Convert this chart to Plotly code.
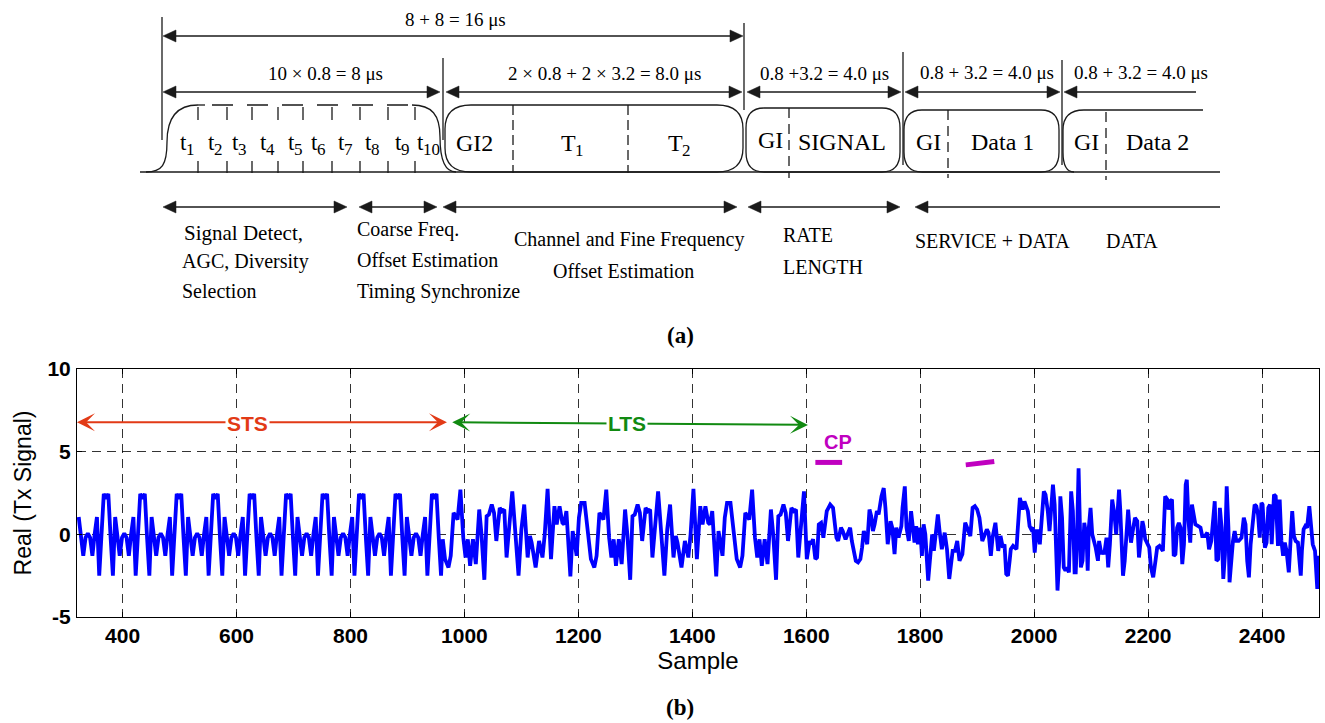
import plotly.graph_objects as go

W, H = 1325, 723

# ------------------------------------------------------------------ data (b)
# short training sequence: one value every 4 samples starting at sample 323
sts_start = 323
sts_step = 4
sts_values = [
    1.05, 0.0, -1.3, -0.2, 0.05, -0.2, -1.3, 0.0, 1.05, -2.5, -0.2, 2.45, 2.15, 2.45, -0.2, -2.5,
    1.05, 0.0, -1.3, -0.2, 0.05, -0.2, -1.3, 0.0, 1.05, -2.5, -0.2, 2.45, 2.15, 2.45, -0.2, -2.5,
    1.05, 0.0, -1.3, -0.2, 0.05, -0.2, -1.3, 0.0, 1.05, -2.5, -0.2, 2.45, 2.15, 2.45, -0.2, -2.5,
    1.05, 0.0, -1.3, -0.2, 0.05, -0.2, -1.3, 0.0, 1.05, -2.5, -0.2, 2.45, 2.15, 2.45, -0.2, -2.5,
    1.05, 0.0, -1.3, -0.2, 0.05, -0.2, -1.3, 0.0, 1.05, -2.5, -0.2, 2.45, 2.15, 2.45, -0.2, -2.5,
    1.05, 0.0, -1.3, -0.2, 0.05, -0.2, -1.3, 0.0, 1.05, -2.5, -0.2, 2.45, 2.15, 2.45, -0.2, -2.5,
    1.05, 0.0, -1.3, -0.2, 0.05, -0.2, -1.3, 0.0, 1.05, -2.5, -0.2, 2.45, 2.15, 2.45, -0.2, -2.5,
    1.05, 0.0, -1.3, -0.2, 0.05, -0.2, -1.3, 0.0, 1.05, -2.5, -0.2, 2.45, 2.15, 2.45, -0.2, -2.5,
    1.05, 0.0, -1.3, -0.2, 0.05, -0.2, -1.3, 0.0, 1.05, -2.5, -0.2, 2.45, 2.15, 2.45, -0.2, -2.5,
    1.05, 0.0, -1.3, -0.2, 0.05, -0.2, -1.3, 0.0, 1.05, -2.5, -0.2, 2.45, 2.15, 2.45, -0.2, -2.5,
]

# long training sequence (GI2, T1, T2): (sample, value)
lts_points = [
    (962, -0.3), (966, -1.5), (972, -2.0), (976, -1.3), (981, 1.3), (985, 1.0), (988, 0.9), (993, 2.7),
    (998, -0.2), (1002, -1.4), (1006, -0.3), (1010, -1.9), (1015, -0.3), (1020, -1.8), (1026, 1.5),
    (1030, 0.0), (1035, -2.75), (1039, 1.1), (1043, 1.2), (1048, 1.8), (1052, 1.3), (1056, -0.4),
    (1062, 1.6), (1066, 1.4), (1070, 1.5), (1074, -1.4), (1078, 0.5), (1084, 2.6),
    (1095, -2.5), (1100, 0.3), (1105, 1.8), (1111, -1.4), (1115, -0.1), (1118, -0.5), (1125, -2.0),
    (1131, -0.4), (1137, -1.4), (1141, 0.0), (1146, 2.75), (1152, -1.5), (1158, 1.7), (1162, 0.6),
    (1167, 1.7), (1172, 0.7), (1175, 0.6), (1179, 1.4), (1186, -2.55), (1190, 0.2), (1193, -0.4),
    (1197, -1.3), (1201, 1.0), (1205, 1.9), (1211, 1.9), (1216, 0.5), (1222, -1.5), (1228, -2.0),
    (1232, -1.3), (1237, 1.3), (1241, 1.0), (1244, 0.9), (1249, 2.7), (1254, -0.2), (1258, -1.4),
    (1262, -0.3), (1266, -1.9), (1271, -0.3), (1276, -1.8), (1282, 1.5), (1286, 0.0), (1291, -2.75),
    (1295, 1.1), (1299, 1.2), (1304, 1.8), (1308, 1.3), (1312, -0.4), (1318, 1.6), (1322, 1.4),
    (1326, 1.5), (1330, -1.4), (1334, 0.5), (1340, 2.6),
    (1351, -2.5), (1356, 0.3), (1361, 1.8), (1367, -1.4), (1371, -0.1), (1374, -0.5), (1381, -2.0),
    (1387, -0.4), (1393, -1.4), (1397, 0.0), (1402, 2.75), (1408, -1.5), (1414, 1.7), (1418, 0.6),
    (1423, 1.7), (1428, 0.7), (1431, 0.6), (1435, 1.4), (1442, -2.55), (1446, 0.2), (1449, -0.4),
    (1453, -1.3), (1457, 1.0), (1461, 1.9), (1467, 1.9), (1472, 0.5), (1478, -1.5), (1484, -2.0),
    (1488, -1.3), (1493, 1.3), (1497, 1.0), (1500, 0.9), (1505, 2.7), (1510, -0.2), (1514, -1.4),
    (1518, -0.3), (1522, -1.9), (1527, -0.3), (1532, -1.8), (1538, 1.5), (1542, 0.0), (1547, -2.75),
    (1551, 1.1), (1555, 1.2), (1560, 1.8), (1564, 1.3), (1568, -0.4), (1574, 1.6), (1578, 1.4),
    (1582, 1.5), (1586, -1.4), (1590, 0.5), (1596, 2.6),
]

# SIGNAL symbol
signal_points = [
    (1601, -1.5), (1606, -0.4), (1608, -0.6), (1612, -0.3), (1616, -1.5), (1619, -1.4), (1622, 0.6),
    (1626, 0.7), (1630, -0.2), (1636, 1.4), (1642, 1.8), (1647, 1.6), (1653, -0.2), (1656, -0.4),
    (1661, 0.4), (1664, 0.2), (1669, -0.3), (1673, 0.1), (1677, 0.4), (1680, -0.4), (1683, -0.9),
    (1687, -1.6), (1691, -1.7), (1695, -1.5), (1698, -0.8), (1701, 0.2), (1704, -0.1), (1707, -0.6),
    (1711, 1.5), (1714, 1.1), (1717, 0.2), (1720, 0.6), (1724, 1.4), (1727, 1.2), (1732, 2.3),
    (1736, 2.8), (1739, 1.6), (1743, -0.6), (1748, 0.8), (1751, 0.4), (1755, -1.2), (1758, 0.4),
    (1762, -0.2), (1767, 0.5), (1769, 1.6), (1773, 2.9), (1776, 0.4), (1780, -0.4), (1784, 1.4),
    (1787, 0.6), (1790, -0.5), (1793, 0.5), (1796, -0.6), (1800, 0.4), (1803, -1.3), (1806, 0.6),
    (1809, 0.0), (1814, -2.8), (1818, -1.4), (1821, 0.0), (1824, -1.0), (1827, 0.1), (1831, 1.2),
    (1834, 0.2), (1838, -0.9), (1843, 0.1), (1847, -0.9), (1851, -2.7), (1855, -1.4), (1857, -1.0),
    (1861, -1.0), (1865, -0.4), (1869, -1.6), (1874, -1.2), (1879, 0.7), (1884, 0.2), (1888, -0.1),
    (1892, 1.6), (1896, 1.7), (1900, 1.5), (1904, 1.0), (1909, -0.4), (1913, 0.0), (1917, 0.3),
    (1920, 0.1), (1924, -1.3), (1927, -0.2), (1932, 0.7), (1937, -1.0),
]

# DATA symbols
data_points = [
    (1941, -0.1), (1945, -0.8), (1948, -0.6), (1951, -2.4), (1954, -2.5), (1957, -1.6), (1959, -0.9),
    (1963, -0.7), (1965, -0.8), (1969, -0.9), (1971, 0.2), (1975, 2.2), (1978, 1.8), (1980, 1.5),
    (1983, 2.0), (1985, 1.8), (1989, 1.4), (1992, 0.5), (1995, 0.3), (1998, 0.4), (2001, -1.1),
    (2004, 0.2), (2006, 0.2), (2010, -0.6), (2012, 0.3), (2017, 2.6), (2020, 2.4), (2024, 1.4),
    (2027, 0.2), (2030, 1.4), (2033, 3.0), (2036, 1.8), (2039, -1.6), (2041, -3.4), (2044, -1.6),
    (2046, 2.3), (2049, 1.0), (2052, -2.0), (2055, -2.2), (2058, -2.0), (2061, -2.3), (2065, 2.6),
    (2068, 1.4), (2071, -2.3), (2073, -2.3), (2075, -0.6), (2078, 4.0), (2080, 1.4), (2082, -2.0),
    (2085, -1.6), (2088, 0.7), (2092, -0.2), (2094, -2.2), (2096, 0.4), (2099, 1.6), (2102, 0.0),
    (2105, -0.4), (2108, -0.8), (2112, -1.6), (2114, -0.4), (2118, -1.2), (2120, -1.0), (2123, -1.2),
    (2127, -0.2), (2130, -2.0), (2133, -0.6), (2137, 2.1), (2141, 1.2), (2144, 0.0), (2149, 2.7),
    (2151, 1.6), (2156, -2.5), (2159, -1.6), (2162, 0.0), (2165, 1.5), (2168, 0.2), (2170, -0.5),
    (2174, 0.4), (2177, 1.0), (2181, 0.8), (2184, -1.4), (2187, -0.4), (2190, 0.8), (2192, 0.5),
    (2195, -0.3), (2198, -0.5), (2202, -0.8), (2205, -2.0), (2209, -2.6), (2213, -1.6), (2216, -0.8),
    (2220, -0.7), (2223, -0.9), (2226, -1.0), (2230, 2.3), (2234, 2.1), (2236, 1.5), (2239, 2.0),
    (2242, 2.1), (2245, -1.3), (2248, -1.2), (2251, 0.4), (2254, 0.7), (2257, 0.4), (2260, -1.8),
    (2263, -0.6), (2266, 3.0), (2268, 3.3), (2271, 0.8), (2274, -0.5), (2277, 1.8), (2280, 1.2),
    (2283, 0.6), (2288, 0.5), (2292, 0.4), (2295, -0.1), (2300, -0.1), (2304, 0.1), (2307, -0.9),
    (2311, -0.4), (2314, 0.8), (2317, 2.0), (2320, -1.6), (2323, -1.5), (2326, 1.6), (2329, 0.4),
    (2332, -2.7), (2335, -1.2), (2338, 2.9), (2341, 0.4), (2343, -2.9), (2346, -1.2), (2349, -0.4),
    (2352, 0.2), (2355, -0.4), (2359, -0.4), (2364, -0.2), (2368, 1.0), (2371, 0.6), (2374, -1.6),
    (2377, -2.6), (2380, -0.6), (2384, 1.1), (2387, 1.8), (2390, 1.7), (2393, 1.2), (2396, -0.2),
    (2399, 1.9), (2401, 1.8), (2405, -0.8), (2408, -0.5), (2411, 1.6), (2414, 1.8), (2417, -0.6),
    (2421, 2.4), (2424, 2.3), (2428, -0.7), (2431, 2.1), (2434, -0.4), (2437, -1.3), (2440, -0.5),
    (2443, -1.0), (2447, -2.3), (2450, -0.2), (2453, 1.4), (2456, -0.1), (2459, -0.4), (2463, -0.5),
    (2468, -2.5), (2470, -1.0), (2473, 0.3), (2476, 0.5), (2479, 0.4), (2483, 1.7), (2487, 0.5),
    (2489, -0.6), (2493, -1.0), (2497, -3.3), (2500, -1.3),
]

# cyclic-prefix markers
cp1_x, cp1_y = [1616, 1663], [4.35, 4.35]
cp2_x, cp2_y = [1880, 1930], [4.2, 4.4]

x_ticks = [400, 600, 800, 1000, 1200, 1400, 1600, 1800, 2000, 2200, 2400]
y_ticks = [-5, 0, 5, 10]
y_tick_text = ["-5", "0", "5", "10"]

# ------------------------------------------------------------------ build trace
sig_x = [sts_start + sts_step * i for i in range(len(sts_values))]
sig_y = list(sts_values)
for seg in (lts_points, signal_points, data_points):
    sig_x += [p[0] for p in seg]
    sig_y += [p[1] for p in seg]

fig = go.Figure()
fig.add_trace(go.Scatter(x=sig_x, y=sig_y, mode="lines",
                         line=dict(color="#0000ff", width=3.8), showlegend=False,
                         hoverinfo="skip"))
fig.add_trace(go.Scatter(x=cp1_x, y=cp1_y, mode="lines",
                         line=dict(color="#c000c0", width=5), showlegend=False))
fig.add_trace(go.Scatter(x=cp2_x, y=cp2_y, mode="lines",
                         line=dict(color="#c000c0", width=5), showlegend=False))

RED = "#e23a16"
GREEN = "#118a11"
MAG = "#c000c0"

ann = []
# STS / LTS arrows inside the plot
ann.append(dict(x=320, y=6.78, ax=972, ay=6.78, xref="x", yref="y", axref="x", ayref="y",
                text="", showarrow=True, arrowside="end+start", arrowhead=3, startarrowhead=3,
                arrowsize=1.5, startarrowsize=1.5, arrowwidth=2, arrowcolor=RED))
ann.append(dict(x=620, y=6.7, xref="x", yref="y", text="<b>STS</b>", showarrow=False,
                font=dict(family="Liberation Sans", size=21, color=RED), bgcolor="white"))
ann.append(dict(x=1603, y=6.62, ax=976, ay=6.78, xref="x", yref="y", axref="x", ayref="y",
                text="", showarrow=True, arrowside="end+start", arrowhead=3, startarrowhead=3,
                arrowsize=1.5, startarrowsize=1.5, arrowwidth=2, arrowcolor=GREEN))
ann.append(dict(x=1286, y=6.7, xref="x", yref="y", text="<b>LTS</b>", showarrow=False,
                font=dict(family="Liberation Sans", size=21, color=GREEN), bgcolor="white"))
ann.append(dict(x=1655, y=5.6, xref="x", yref="y", text="<b>CP</b>", showarrow=False,
                font=dict(family="Liberation Sans", size=20, color=MAG)))

# ------------------------------------------------------------------ diagram (a)
def X(px):
    return px / W


def Y(py):
    return 1 - py / H


shapes = []
LC = "#1a1a1a"


def line(x0, y0, x1, y1, width=1.3, dash=None, color=LC):
    shapes.append(dict(type="line", xref="paper", yref="paper", x0=X(x0), y0=Y(y0),
                       x1=X(x1), y1=Y(y1), line=dict(color=color, width=width, dash=dash)))


def path(cmds, width=1.3, fill=None, color=LC):
    parts = []
    for c in cmds:
        op, nums = c[0], c[1:]
        pts = [f"{X(nums[i]):.5f},{Y(nums[i + 1]):.5f}" for i in range(0, len(nums), 2)]
        parts.append(op + " " + " ".join(pts))
    d = dict(type="path", xref="paper", yref="paper", path=" ".join(parts),
             line=dict(color=color, width=width))
    if fill:
        d["fillcolor"] = fill
    shapes.append(d)


def head(x, y, direction, L=13, h=6):
    if direction == "left":
        path([("M", x, y), ("L", x + L, y - h), ("L", x + L, y + h), ("Z",)], width=0.5, fill=LC)
    else:
        path([("M", x, y), ("L", x - L, y - h), ("L", x - L, y + h), ("Z",)], width=0.5, fill=LC)


def harrow(x0, x1, y, left=True, right=True):
    line(x0 + (6 if left else 0), y, x1 - (6 if right else 0), y)
    if left:
        head(x0, y, "left")
    if right:
        head(x1, y, "right")


def rrect(x0, x1, y0, y1, rx, ry):
    path([("M", x0 + rx, y0), ("L", x1 - rx, y0), ("Q", x1, y0, x1, y0 + ry),
          ("L", x1, y1 - ry), ("Q", x1, y1, x1 - rx, y1), ("L", x0 + rx, y1),
          ("Q", x0, y1, x0, y1 - ry), ("L", x0, y0 + ry), ("Q", x0, y0, x0 + rx, y0), ("Z",)])


SERIF = "Liberation Serif"


def txt(x, y, s, size=19, anchor="center", bold=False):
    ann.append(dict(x=X(x), y=Y(y), xref="paper", yref="paper", text=(f"<b>{s}</b>" if bold else s),
                    showarrow=False, xanchor=anchor, yanchor="middle", borderpad=0, borderwidth=0,
                    font=dict(family=SERIF, size=size, color="black")))


def subbed(x, y, base, sub, size):
    # base letter and its subscript as two separate texts meeting at x
    txt(x, y, base, size=size, anchor="right")
    txt(x - 1, y + size * 0.3, sub, size=round(size * 0.72), anchor="left")


# dimension arrows
line(162, 17, 162, 140)
line(744, 23, 744, 110)
harrow(163, 743, 36)
txt(455, 19, "8 + 8 = 16 μs")

line(443, 58, 443, 140)
line(903, 52, 903, 165)
line(1062, 60, 1062, 165)
harrow(163, 440, 92)
harrow(446, 742, 92)
harrow(747, 901, 92)
harrow(905, 1060, 92)
harrow(1064, 1196, 92, right=False)
txt(325, 74, "10 × 0.8 = 8 μs")
txt(604, 74, "2 × 0.8 + 2 × 3.2 = 8.0 μs")
txt(824, 74, "0.8 +3.2 = 4.0 μs")
txt(987, 73, "0.8 + 3.2 = 4.0 μs")
txt(1141, 73, "0.8 + 3.2 = 4.0 μs")

# baseline
line(140, 172, 1220, 172)

# STS bump
path([("M", 146, 172), ("C", 162, 172, 167, 165, 167, 142), ("C", 167, 116, 178, 105, 198, 105)])
line(198, 105, 205, 105)
line(212, 105, 410, 105, dash="21px,14px")
path([("M", 412, 105), ("C", 432, 105, 440, 115, 440, 137), ("C", 440, 162, 446, 172, 456, 172)])
for tx in [198, 227, 252, 278, 303, 332, 360, 388, 415]:
    line(tx, 107, tx, 120)
    line(tx, 161, tx, 173)
t_pos = [187, 215, 239, 267, 295, 318, 345, 372, 402, 424]
for i, tx in enumerate(t_pos):
    subbed(tx, 143, "t", str(i + 1), 23)

# LTS box
rrect(445, 743, 105, 172, 26, 24)
line(513, 105, 513, 173, dash="10px,5px")
line(628, 105, 628, 173, dash="10px,5px")
txt(474, 143, "GI2", size=24)
subbed(576, 143, "T", "1", 24)
subbed(683, 143, "T", "2", 24)

# SIGNAL box
rrect(746, 900, 108, 172, 18, 20)
line(789, 108, 789, 178, dash="10px,6px")
txt(770, 140, "GI", size=24)
txt(842, 142, "SIGNAL", size=24)

# Data 1 box
rrect(904, 1059, 110, 172, 18, 20)
line(948, 110, 948, 178, dash="10px,6px")
txt(928, 142, "GI", size=24)
txt(1002, 142, "Data 1", size=24)

# Data 2 (open box)
path([("M", 1074, 172), ("Q", 1063, 172, 1063, 152), ("L", 1063, 130), ("Q", 1063, 110, 1084, 110),
      ("L", 1203, 110)])
line(1106, 112, 1106, 180, dash="10px,6px")
txt(1086, 142, "GI", size=24)
txt(1157, 142, "Data 2", size=24)

# lower arrows
harrow(163, 347, 207)
harrow(359, 437, 207)
harrow(443, 737, 207)
harrow(748, 900, 207)
harrow(915, 1220, 207, right=False)

txt(184, 233, "Signal Detect,", size=21, anchor="left")
txt(182, 261, "AGC, Diversity", size=20, anchor="left")
txt(182, 291, "Selection", size=20, anchor="left")
txt(357, 229, "Coarse Freq.", size=20, anchor="left")
txt(357, 260, "Offset Estimation", size=20, anchor="left")
txt(357, 291, "Timing Synchronize", size=20, anchor="left")
txt(629, 240, "Channel and Fine Frequency", size=20)
txt(623, 271, "Offset Estimation", size=20)
txt(783, 235, "RATE", size=20, anchor="left")
txt(783, 267, "LENGTH", size=20, anchor="left")
txt(915, 241, "SERVICE + DATA", size=20, anchor="left")
txt(1106, 241, "DATA", size=20, anchor="left")

txt(680, 335, "(a)", size=23, bold=True)
txt(680, 707, "(b)", size=23, bold=True)

# ------------------------------------------------------------------ layout
axis_common = dict(showline=True, linecolor="black", linewidth=1, mirror="ticks",
                   ticks="inside", ticklen=5, tickcolor="black",
                   showgrid=True, gridcolor="rgba(0,0,0,0.8)", gridwidth=1, griddash="9px,6px",
                   zeroline=False, automargin=False,
                   tickfont=dict(family="Liberation Sans", size=21, color="black", weight="bold"))

fig.update_layout(
    width=W, height=H,
    margin=dict(l=0, r=0, t=0, b=0, pad=0, autoexpand=False),
    paper_bgcolor="white", plot_bgcolor="white",
    showlegend=False,
    xaxis=dict(domain=[77 / W, 1319 / W], range=[320, 2500], tickvals=x_ticks,
               ticklabelstandoff=0,
               title=dict(text="Sample", font=dict(family="Liberation Sans", size=24, color="black"),
                          standoff=1),
               **axis_common),
    yaxis=dict(domain=[(H - 617) / H, (H - 369) / H], range=[-5, 10], tickvals=y_ticks,
               ticktext=y_tick_text, ticklabelstandoff=1,
               title=dict(text="Real (Tx Signal)", font=dict(family="Liberation Sans", size=23,
                                                             color="black"), standoff=9),
               **axis_common),
    shapes=shapes,
    annotations=ann,
)

fig.write_html("out.html")
